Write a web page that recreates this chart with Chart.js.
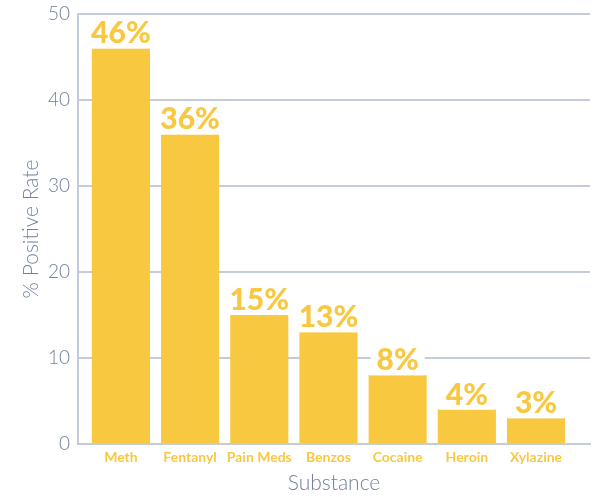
<!DOCTYPE html>
<html>
<head>
<meta charset="utf-8">
<script src="https://cdn.jsdelivr.net/npm/chart.js@4"></script>
<style>
  html, body { margin: 0; padding: 0; background: #fff; }
  #wrap { width: 593px; height: 497px; }
</style>
</head>
<body>
<div id="wrap"><canvas id="chart"></canvas></div>
<script>
// values
const substances = ['Meth', 'Fentanyl', 'Pain Meds', 'Benzos', 'Cocaine', 'Heroin', 'Xylazine'];
const positiveRate = [46, 36, 15, 13, 8, 4, 3];
const yTicks = [0, 10, 20, 30, 40, 50];

const barColor = '#F9C841';
const textColor = '#72809E';
const lineColor = '#C3CBDC';

// percent labels above each bar, on a white box so the grid stops behind them
const barLabels = {
    id: 'barLabels',
    afterDatasetsDraw(chart) {
        const ctx = chart.ctx;
        const meta = chart.getDatasetMeta(0);
        ctx.save();
        ctx.font = '900 30px Lato';
        ctx.textAlign = 'center';
        ctx.textBaseline = 'alphabetic';
        meta.data.forEach(function(bar, i) {
            const text = positiveRate[i] + '%';
            const w = ctx.measureText(text).width;
            ctx.fillStyle = '#ffffff';
            ctx.fillRect(bar.x - w / 2 - 6, bar.y - 31, w + 12, 31);
            ctx.fillStyle = barColor;
            ctx.fillText(text, bar.x, bar.y - 5);
        });
        ctx.restore();
    }
};

const ctx = document.getElementById('chart').getContext('2d');
new Chart(ctx, {
    type: 'bar',
    data: {
        labels: substances,
        datasets: [{
            data: positiveRate,
            backgroundColor: barColor,
            borderWidth: 0,
            categoryPercentage: 1,
            barPercentage: 0.84
        }]
    },
    options: {
        responsive: true,
        maintainAspectRatio: false,
        animation: false,
        layout: {
            padding: { top: 14, right: 3, bottom: 0, left: 0 }
        },
        scales: {
            x: {
                grid: { display: false, drawTicks: false },
                border: { color: lineColor, width: 2 },
                ticks: {
                    color: barColor,
                    padding: 5,
                    maxRotation: 0,
                    autoSkip: false,
                    font: { family: 'Lato', size: 14, weight: 'bold' }
                },
                title: {
                    display: true,
                    text: 'Substance',
                    color: textColor,
                    padding: { top: 0, bottom: 1 },
                    font: { family: 'Lato', size: 21, weight: '300' }
                },
                afterFit: function(scale) { scale.height = 53; },
                // leave extra room to the right of the last bar, like the original
                afterBuildTicks: function(scale) {
                    scale._startValue = -0.62;
                    scale._valueRange = 7.4;
                }
            },
            y: {
                min: 0,
                max: 50,
                afterBuildTicks: function(scale) {
                    scale.ticks = yTicks.map(function(v) { return { value: v }; });
                },
                grid: { color: lineColor, lineWidth: 2, drawTicks: false },
                border: { color: lineColor, width: 2 },
                ticks: {
                    color: textColor,
                    padding: 8,
                    font: { family: 'Lato', size: 19, weight: '300' }
                },
                title: {
                    display: true,
                    text: '% Positive Rate',
                    color: textColor,
                    padding: { top: 19, bottom: 0 },
                    font: { family: 'Lato', size: 21, weight: '300' }
                },
                afterFit: function(scale) {
                    scale.width = 78;
                    scale.paddingTop = 0;
                }
            }
        },
        plugins: {
            legend: { display: false },
            tooltip: { enabled: false }
        }
    },
    plugins: [barLabels]
});
</script>
</body>
</html>
